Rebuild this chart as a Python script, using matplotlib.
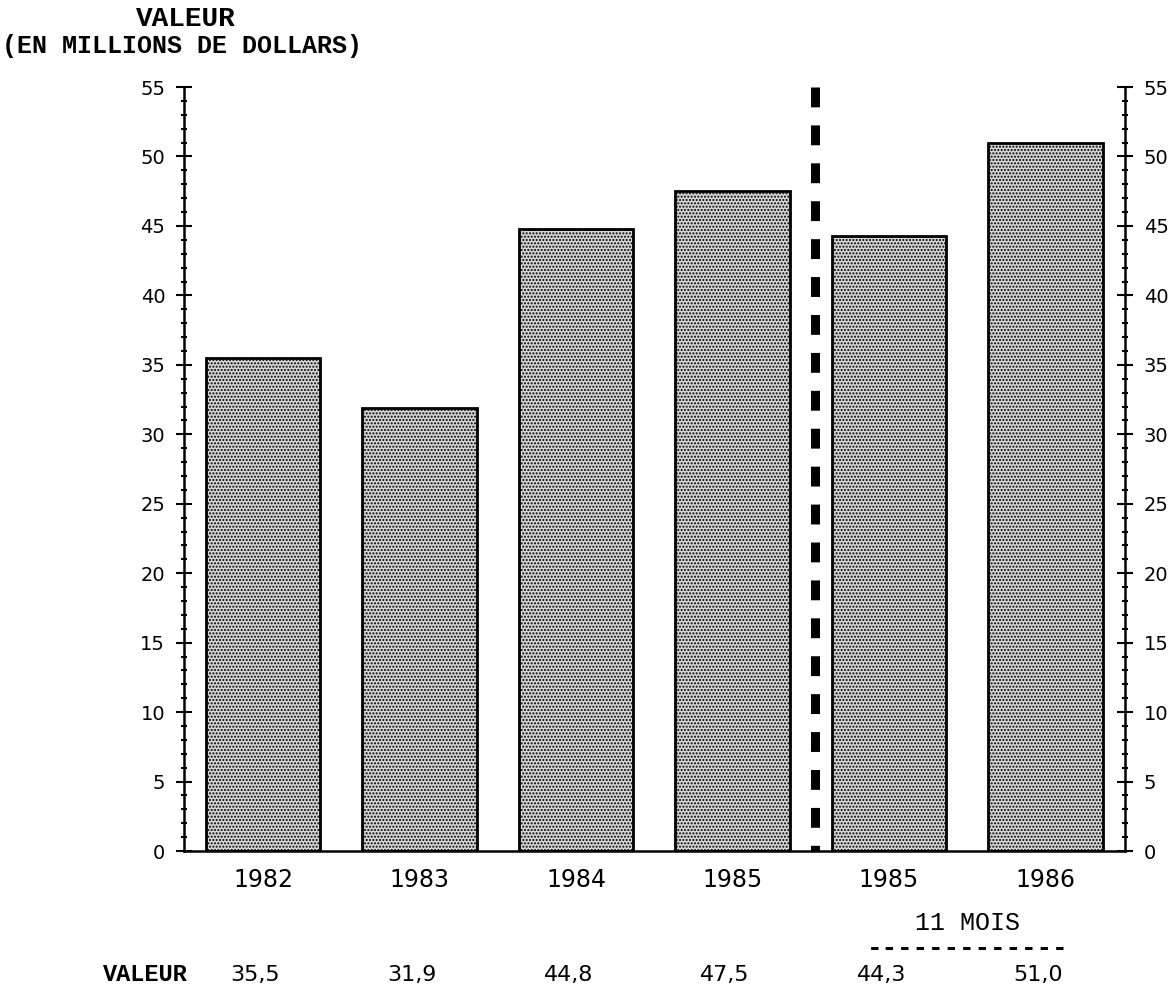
import matplotlib
matplotlib.use("Agg")
import matplotlib.pyplot as plt
from matplotlib.ticker import MultipleLocator

categories = ["1982", "1983", "1984", "1985", "1985", "1986"]
values = [35.5, 31.9, 44.8, 47.5, 44.3, 51.0]
value_labels = ["35,5", "31,9", "44,8", "47,5", "44,3", "51,0"]
y_max = 55
separator_x = 3.53

plt.rcParams['hatch.color'] = '#1a1a1a'
plt.rcParams['hatch.linewidth'] = 1.0

fig = plt.figure(figsize=(11.74, 9.89), dpi=100)
ax = fig.add_axes([0.1567, 0.1395, 0.8016, 0.7725])

x = list(range(len(categories)))
ax.bar(x, values, width=0.73, facecolor='#d6d6d6', edgecolor='black',
       linewidth=2, hatch='.....', zorder=2)

ax.plot([separator_x, separator_x], [y_max, 0], color='black', linewidth=6.5,
        linestyle=(0, (2.2, 2.0)), solid_capstyle='butt',
        dash_capstyle='butt', zorder=3)

ax.set_xlim(-0.505, 5.508)
ax.set_ylim(0, y_max)
ax.spines['top'].set_visible(False)
for s in ['left', 'right', 'bottom']:
    ax.spines[s].set_linewidth(1.8)

ax.yaxis.set_major_locator(MultipleLocator(5))
ax.yaxis.set_minor_locator(MultipleLocator(1))
ax.tick_params(axis='y', which='major', direction='inout', length=11, width=1.5,
               left=True, right=True, labelleft=True, labelright=True,
               labelsize=14, pad=8)
ax.tick_params(axis='y', which='minor', direction='inout', length=5, width=1.5,
               left=True, right=True)
ax.set_xticks(x)
ax.set_xticklabels(categories, fontsize=17)
ax.tick_params(axis='x', length=0, pad=12)

mono = 'Liberation Mono'
fig.text(186 / 1174, 1 - 19 / 989, "VALEUR", family=mono, weight='bold',
         fontsize=20, ha='center', va='center')
fig.text(2 / 1174, 1 - 46 / 989, "(EN MILLIONS DE DOLLARS)", family=mono,
         weight='bold', fontsize=18, ha='left', va='center')

# bottom table
ax.text(-0.505 - 0.52, -8.9, "VALEUR", family=mono, weight='bold', fontsize=17,
        ha='left', va='center', clip_on=False)
for xi, lab in zip(x, value_labels):
    ax.text(xi - 0.05, -8.9, lab, fontsize=16, ha='center', va='center',
            clip_on=False)
ax.text(4.5, -5.2, "11 MOIS", family=mono, fontsize=18, ha='center',
        va='center', clip_on=False)
ax.text(4.5, -7.0, "-------------", family=mono, weight='bold', fontsize=18.6,
        ha='center', va='center', clip_on=False)

fig.savefig("out.png", dpi=100)
